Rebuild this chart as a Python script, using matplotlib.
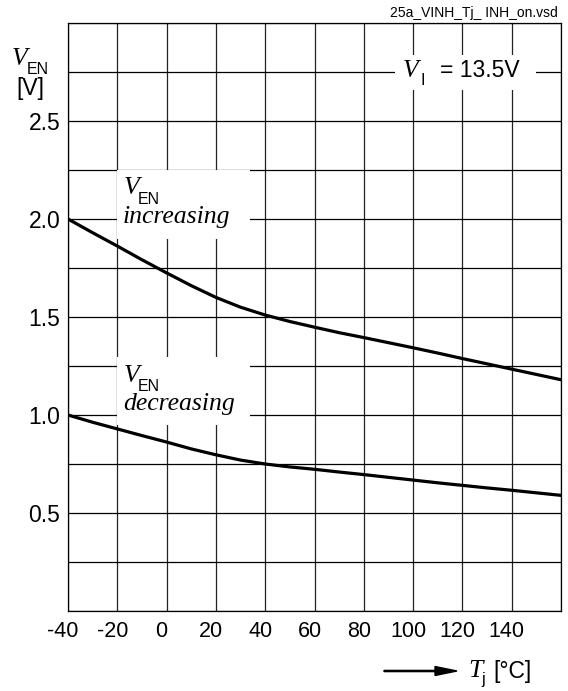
import numpy as np
import matplotlib
matplotlib.use("Agg")
import matplotlib.pyplot as plt
from matplotlib.patches import Rectangle, FancyArrow
from matplotlib.transforms import ScaledTranslation

plt.rcParams['font.family'] = ['Liberation Sans', 'DejaVu Sans']

# Tj in degC
temp = [-40, -30, -20, -10, 0, 10, 20, 30, 40, 50, 60, 70, 80, 90, 100, 110, 120, 130, 140, 150, 160]
# V_EN increasing / decreasing thresholds
v_inc = [2.0, 1.93, 1.862, 1.792, 1.725, 1.66, 1.60, 1.55, 1.51, 1.477, 1.448, 1.42, 1.395,
         1.369, 1.343, 1.316, 1.288, 1.261, 1.234, 1.207, 1.18]
v_dec = [1.0, 0.963, 0.929, 0.895, 0.862, 0.827, 0.797, 0.77, 0.75, 0.735, 0.723, 0.709, 0.696,
         0.682, 0.668, 0.654, 0.641, 0.628, 0.616, 0.603, 0.59]

x_ticks = [-40, -20, 0, 20, 40, 60, 80, 100, 120, 140]
y_ticks = [0.5, 1.0, 1.5, 2.0, 2.5]

W, H = 568, 691
fig = plt.figure(figsize=(W / 100, H / 100), dpi=100)
ax = fig.add_axes([68 / W, 1 - 611 / H, (561 - 68) / W, (611 - 23) / H])

ax.set_xlim(-40, 160)
ax.set_ylim(0, 3.0)
ax.set_xticks(x_ticks)
ax.set_xticklabels([str(t) for t in x_ticks], fontsize=15.5)
ax.set_yticks(y_ticks)
ax.set_yticklabels([f"{t:.1f}" for t in y_ticks], fontsize=16.5)
ax.tick_params(axis='both', which='both', length=0)
ax.tick_params(axis='y', pad=5.5)
ax.tick_params(axis='x', pad=7.5)
# x labels sit a little left of their grid lines in the original
shift = ScaledTranslation(-5 / 100, 0, fig.dpi_scale_trans)
for lab in ax.get_xticklabels():
    lab.set_transform(lab.get_transform() + shift)

for xv in np.arange(-40, 161, 20):
    ax.axvline(xv, color='#222222', lw=0.9, zorder=1)
for yv in np.arange(0, 3.01, 0.25):
    ax.axhline(yv, color='black', lw=0.9, zorder=1)
for s in ax.spines.values():
    s.set_linewidth(0.9)

ax.plot(temp, v_inc, color='black', lw=2.3, zorder=3, solid_joinstyle='round')
ax.plot(temp, v_dec, color='black', lw=2.3, zorder=3, solid_joinstyle='round')

# white label boxes over the grid
for (x0, x1, y0, y1) in [(-20, 34, 1.90, 2.25), (-20, 34, 0.95, 1.296), (92.5, 150, 2.658, 2.837)]:
    ax.add_patch(Rectangle((x0, y0), x1 - x0, y1 - y0, facecolor='white', edgecolor='none', zorder=2))


def ptext(x, y, s, **kw):
    # x, y in pixels from the top-left corner, y = baseline
    fig.text(x / W, 1 - y / H, s, va='baseline', ha='left', zorder=5, **kw)


serif = dict(family='Liberation Serif', style='italic', fontsize=18.5)
sub = dict(fontsize=11.5)
sans = dict(fontsize=16.5)

# curve labels
ptext(124, 194, 'V', **serif)
ptext(138, 204, 'EN', **sub)
ptext(123, 223, 'increasing', **serif)
ptext(124, 382, 'V', **serif)
ptext(138, 391, 'EN', **sub)
ptext(123, 410, 'decreasing', **serif)

# supply voltage
ptext(403, 77, 'V', **serif)
ptext(421, 85, 'I', **sub)
ptext(440, 77, '= 13.5V', **sans)

# y axis label
ptext(12, 65, 'V', **serif)
ptext(27, 74, 'EN', **sub)
ptext(16, 95, '[V]', **sans)

# x axis label with arrow
fig.patches.append(FancyArrow(
    384 / W, 1 - 671 / H, 73 / W, 0, width=1.2 / H, head_width=9 / H, head_length=22 / W,
    length_includes_head=True, color='black', transform=fig.transFigure, figure=fig))
ptext(468, 677, 'T', **serif)
ptext(481, 684, 'j', **sub)
ptext(493, 678, '[°C]', **sans)

fig.text(558 / W, 1 - 17 / H, '25a_VINH_Tj_ INH_on.vsd', fontsize=10, ha='right', va='baseline')

fig.savefig('out.png', dpi=100)
